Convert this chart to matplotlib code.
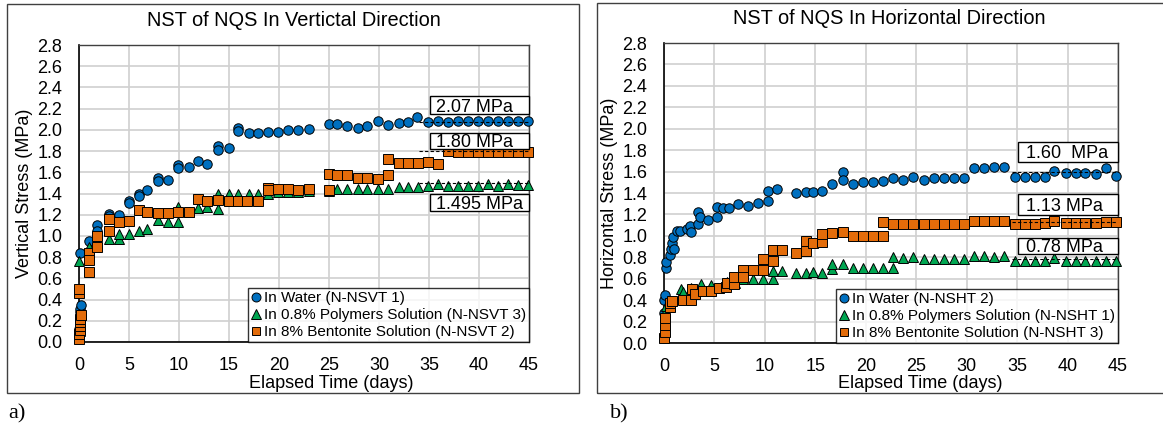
import matplotlib
matplotlib.use("Agg")
import matplotlib.pyplot as plt
from matplotlib.patches import Rectangle

plt.rcParams['font.family'] = ['Liberation Sans', 'DejaVu Sans']

# ---------------- data ----------------
# Panel a) vertical direction
va_water_t = [0.02, 0.05, 0.08, 0.1, 0.12, 0.15, 0.1, 0.95, 1.8, 1.8, 3.0, 3.0, 4.0, 5.0, 5.0, 6.0, 6.0, 6.8,
              7.9, 7.9, 8.9, 9.9, 9.9, 11.0, 11.9, 12.8, 13.9, 13.9, 15.0, 15.9, 15.9, 17.0, 17.9, 18.9, 19.9,
              20.9, 21.9, 23.0, 25.0, 25.8, 26.8, 27.9, 28.8, 29.9, 30.9, 32.0, 32.9, 33.8, 34.9, 35.9, 36.9,
              37.9, 38.9, 39.9, 40.9, 41.9, 42.9, 43.9, 44.9]
va_water_v = [0.12, 0.18, 0.24, 0.28, 0.31, 0.35, 0.84, 0.95, 1.10, 1.05, 1.21, 1.19, 1.20, 1.33, 1.31, 1.40, 1.38,
              1.43, 1.55, 1.52, 1.53, 1.67, 1.64, 1.65, 1.71, 1.68, 1.85, 1.81, 1.83, 2.02, 1.99, 1.97, 1.97,
              1.98, 1.98, 2.00, 2.00, 2.01, 2.055, 2.055, 2.035, 2.02, 2.04, 2.08, 2.05, 2.06, 2.07, 2.12, 2.07,
              2.08, 2.075, 2.08, 2.08, 2.08, 2.08, 2.08, 2.08, 2.08, 2.08]

va_poly_t = [0.05, 0.1, 0.15, 0.0, 0.95, 1.8, 3.0, 4.0, 4.0, 5.0, 6.0, 6.8, 7.9, 8.9, 9.9, 9.9, 11.0, 11.9, 12.8,
             13.9, 13.9, 15.0, 15.9, 17.0, 17.9, 18.9, 19.9, 20.9, 21.9, 23.0, 25.0, 25.8, 26.8, 27.9, 28.8,
             29.9, 30.9, 32.0, 32.9, 33.9, 34.9, 35.9, 36.9, 37.9, 38.9, 39.9, 40.9, 41.9, 42.9, 43.9, 44.9]
va_poly_v = [0.10, 0.18, 0.25, 0.76, 0.90, 0.93, 0.97, 0.97, 1.02, 1.02, 1.05, 1.07, 1.15, 1.13, 1.13, 1.27, 1.23,
             1.26, 1.27, 1.25, 1.40, 1.40, 1.40, 1.40, 1.40, 1.40, 1.41, 1.41, 1.41, 1.42, 1.42, 1.44, 1.44,
             1.44, 1.44, 1.44, 1.44, 1.46, 1.46, 1.46, 1.47, 1.49, 1.47, 1.47, 1.47, 1.47, 1.49, 1.47, 1.49,
             1.48, 1.48]

va_bent_t = [0.0, 0.02, 0.05, 0.08, 0.1, 0.12, 0.15, 0.0, 0.0, 0.95, 0.95, 0.95, 1.8, 1.8, 3.0, 3.0, 4.0, 5.0,
             6.0, 6.8, 7.9, 8.9, 9.9, 11.0, 11.9, 12.8, 13.9, 15.0, 15.9, 16.8, 17.9, 18.9, 18.9, 19.9, 20.9,
             21.9, 23.0, 25.0, 25.0, 25.8, 26.8, 27.9, 28.8, 29.9, 30.9, 30.9, 32.0, 32.9, 33.9, 34.9, 35.9,
             36.9, 37.9, 38.9, 39.9, 40.9, 41.9, 42.9, 43.9, 44.9]
va_bent_v = [0.03, 0.08, 0.11, 0.15, 0.19, 0.22, 0.25, 0.46, 0.50, 0.84, 0.77, 0.66, 1.00, 0.90, 1.16, 1.05, 1.13,
             1.14, 1.24, 1.23, 1.22, 1.22, 1.225, 1.23, 1.35, 1.33, 1.34, 1.33, 1.33, 1.33, 1.33, 1.45, 1.43,
             1.44, 1.44, 1.43, 1.44, 1.43, 1.58, 1.57, 1.57, 1.55, 1.55, 1.54, 1.57, 1.725, 1.69, 1.69, 1.69,
             1.70, 1.68, 1.80, 1.79, 1.79, 1.79, 1.79, 1.79, 1.79, 1.79, 1.79]

va_means = [2.07, 1.80, 1.495]
va_mean_labels = ["2.07 MPa", "1.80 MPa", "1.495 MPa"]
va_legend = ["In Water (N-NSVT 1)", "In 0.8% Polymers Solution (N-NSVT 3)", "In 8% Bentonite Solution (N-NSVT 2)"]

# Panel b) horizontal direction
hb_water_t = [0.0, 0.02, 0.05, 0.15, 0.17, 0.6, 0.7, 0.8, 0.9, 1.0, 1.3, 1.6, 2.3, 2.6, 2.7, 3.4, 3.4, 3.6, 4.4,
              5.3, 5.3, 5.8, 6.4, 7.3, 8.3, 9.3, 10.3, 10.3, 11.2, 13.1, 14.1, 14.8, 15.7, 16.7, 17.7, 17.7,
              18.7, 19.7, 20.7, 21.7, 22.7, 23.7, 24.7, 25.8, 26.8, 27.8, 28.7, 29.7, 30.7, 31.7, 32.7, 33.7,
              34.8, 35.8, 36.8, 37.8, 38.7, 39.8, 40.8, 41.7, 42.8, 43.8, 44.8]
hb_water_v = [0.28, 0.40, 0.45, 0.70, 0.76, 0.82, 0.88, 0.93, 0.99, 0.88, 1.05, 1.05, 1.06, 1.09, 1.04, 1.11, 1.22,
              1.18, 1.15, 1.18, 1.27, 1.26, 1.26, 1.30, 1.28, 1.31, 1.33, 1.42, 1.44, 1.40, 1.41, 1.41, 1.42,
              1.48, 1.60, 1.52, 1.48, 1.50, 1.50, 1.51, 1.54, 1.52, 1.55, 1.52, 1.54, 1.54, 1.54, 1.54, 1.63,
              1.63, 1.64, 1.64, 1.55, 1.55, 1.55, 1.55, 1.61, 1.59, 1.59, 1.59, 1.58, 1.63, 1.56]

hb_poly_t = [0.0, 0.05, 0.1, 0.2, 1.7, 1.9, 2.7, 3.7, 4.7, 6.2, 7.0, 7.8, 8.8, 9.8, 10.8, 10.8, 11.7, 13.1, 14.1,
             14.8, 15.7, 16.7, 16.7, 17.7, 18.7, 19.7, 20.7, 21.7, 22.7, 22.7, 23.7, 24.7, 25.8, 26.8, 27.8,
             28.7, 29.7, 30.7, 31.7, 32.7, 33.7, 34.8, 35.8, 36.8, 37.8, 38.7, 39.8, 40.8, 41.7, 42.8, 43.8, 44.8]
hb_poly_v = [0.12, 0.21, 0.29, 0.35, 0.50, 0.48, 0.51, 0.55, 0.54, 0.57, 0.56, 0.60, 0.60, 0.60, 0.60, 0.67, 0.67,
             0.65, 0.65, 0.66, 0.65, 0.69, 0.74, 0.74, 0.70, 0.70, 0.70, 0.70, 0.70, 0.80, 0.79, 0.80, 0.78,
             0.78, 0.78, 0.78, 0.78, 0.81, 0.81, 0.80, 0.81, 0.77, 0.77, 0.77, 0.77, 0.79, 0.77, 0.77, 0.77,
             0.77, 0.77, 0.77]

hb_bent_t = [0.0, 0.05, 0.08, 0.1, 0.55, 0.6, 0.8, 1.9, 2.7, 2.8, 3.1, 3.9, 4.7, 5.5, 6.1, 6.2, 6.9, 6.9, 7.8,
             7.8, 8.8, 9.8, 9.8, 10.8, 10.8, 11.7, 13.1, 14.1, 14.1, 14.8, 15.7, 15.7, 16.7, 17.7, 18.7, 19.7,
             20.7, 21.7, 21.7, 22.7, 23.7, 24.7, 25.8, 26.8, 27.8, 28.7, 29.7, 30.7, 31.7, 32.7, 33.7, 34.8,
             35.8, 36.8, 37.8, 38.7, 39.8, 40.8, 41.7, 42.8, 43.8, 44.8]
hb_bent_v = [0.05, 0.10, 0.17, 0.23, 0.34, 0.37, 0.39, 0.40, 0.40, 0.50, 0.46, 0.49, 0.49, 0.51, 0.52, 0.56, 0.55,
             0.62, 0.68, 0.62, 0.68, 0.68, 0.78, 0.77, 0.87, 0.87, 0.84, 0.86, 0.95, 0.93, 0.94, 1.02, 1.03,
             1.04, 1.00, 1.00, 1.00, 1.00, 1.13, 1.11, 1.11, 1.11, 1.11, 1.11, 1.11, 1.11, 1.11, 1.14, 1.14,
             1.14, 1.14, 1.11, 1.11, 1.11, 1.12, 1.14, 1.12, 1.12, 1.12, 1.12, 1.13, 1.13]

hb_means = [1.60, 1.13, 0.78]
hb_mean_labels = ["1.60  MPa", "1.13 MPa", "0.78 MPa"]
hb_legend = ["In Water (N-NSHT 2)", "In 0.8% Polymers Solution (N-NSHT 1)", "In 8% Bentonite Solution (N-NSHT 3)"]

x_ticks = [0, 5, 10, 15, 20, 25, 30, 35, 40, 45]
y_ticks = [0.0, 0.2, 0.4, 0.6, 0.8, 1.0, 1.2, 1.4, 1.6, 1.8, 2.0, 2.2, 2.4, 2.6, 2.8]

# ---------------- style ----------------
W, H = 1163, 433
BLUE, GREEN, ORANGE = '#0070C0', '#00A651', '#E36C0A'

fig = plt.figure(figsize=(W / 100, H / 100), dpi=100)


def fx(x):
    return x / W


def fy(y):
    return 1 - y / H


def frame(x0, y0, x1, y1):
    fig.patches.append(Rectangle((fx(x0), fy(y1)), fx(x1 - x0), (y1 - y0) / H,
                                 transform=fig.transFigure, fill=False, ec='#404040', lw=1.0))


def panel(rect, data, means, mean_labels, box_spans, text_x, legend_labels, mean_start):
    x0, y0, x1, y1 = rect
    ax = fig.add_axes([fx(x0), fy(y1), fx(x1 - x0), (y1 - y0) / H])
    ax.set_xlim(0, 45)
    ax.set_ylim(0, 2.8)
    ax.set_xticks(x_ticks)
    ax.set_yticks(y_ticks)
    ax.set_yticklabels([f"{v:.1f}" for v in y_ticks])
    ax.tick_params(length=0, labelsize=13, colors='black')
    ax.tick_params(axis='x', pad=11)
    ax.tick_params(axis='y', pad=12)
    ax.grid(True, color='#D0D0D0', lw=1.2)
    ax.set_axisbelow(True)
    for s in ['left', 'bottom']:
        ax.spines[s].set_color('black')
        ax.spines[s].set_linewidth(1.2)
    for s in ['top', 'right']:
        ax.spines[s].set_color('#404040')
        ax.spines[s].set_linewidth(1.0)

    styles = [('o', BLUE, 6.8), ('^', GREEN, 7.2), ('s', ORANGE, 6.6)]
    for (t, v), (mk, col, ms), lab in zip(data, styles, legend_labels):
        ax.plot(t, v, ls='none', marker=mk, ms=ms, mfc=col, mec='black', mew=0.7,
                label=lab, clip_on=False, zorder=3)

    for m in means:
        ax.plot([mean_start, 45], [m, m], color='black', lw=0.8, ls=(0, (3, 2)), zorder=4)

    for (lo, hi), lab in zip(box_spans, mean_labels):
        ax.add_patch(Rectangle((35.1, lo), 9.9, hi - lo, fc='white', ec='black', lw=1.0,
                               zorder=5, clip_on=False))
        ax.text(text_x, (lo + hi) / 2, lab, fontsize=13, ha='left', va='center_baseline', zorder=6)

    leg = ax.legend(loc='lower right', bbox_to_anchor=(1.0, 0.0), borderaxespad=0,
                    fontsize=11, frameon=True, fancybox=False, edgecolor='black',
                    handlelength=0.7, handletextpad=0.15, labelspacing=0.18, borderpad=0.2,
                    markerscale=0.95)
    leg.get_frame().set_linewidth(1.0)
    leg.set_zorder(7)
    return ax


# Panel a
frame(7, 4, 579, 393)
panel((79, 45, 529, 342),
      [(va_water_t, va_water_v), (va_poly_t, va_poly_v), (va_bent_t, va_bent_v)],
      va_means, va_mean_labels,
      [(2.146, 2.322), (1.82, 1.97), (1.235, 1.395)], 35.7, va_legend, 34.0)
fig.text(fx(294), fy(20), "NST of NQS In Vertictal Direction", fontsize=14.4, ha='center', va='center')
fig.text(fx(25), fy(193), "Vertical Stress (MPa)", fontsize=13, rotation=90, ha='center', va='center')
fig.text(fx(331), fy(383), "Elapsed Time (days)", fontsize=13, ha='center', va='center')
fig.text(fx(8), fy(414), "a)", fontsize=16, ha='left', va='center', family='Liberation Serif')

# Panel b
frame(597, 3, 1170, 393)
panel((664, 43, 1118, 343),
      [(hb_water_t, hb_water_v), (hb_poly_t, hb_poly_v), (hb_bent_t, hb_bent_v)],
      hb_means, hb_mean_labels,
      [(1.69, 1.877), (1.195, 1.391), (0.831, 0.98)], 35.9, hb_legend, 34.5)
fig.text(fx(889), fy(18), "NST of NQS In Horizontal Direction", fontsize=14.4, ha='center', va='center')
fig.text(fx(610), fy(193), "Horizontal Stress (MPa)", fontsize=13, rotation=90, ha='center', va='center')
fig.text(fx(920), fy(383), "Elapsed Time (days)", fontsize=13, ha='center', va='center')
fig.text(fx(610), fy(414), "b)", fontsize=16, ha='left', va='center', family='Liberation Serif')

fig.savefig("out.png", dpi=100)
